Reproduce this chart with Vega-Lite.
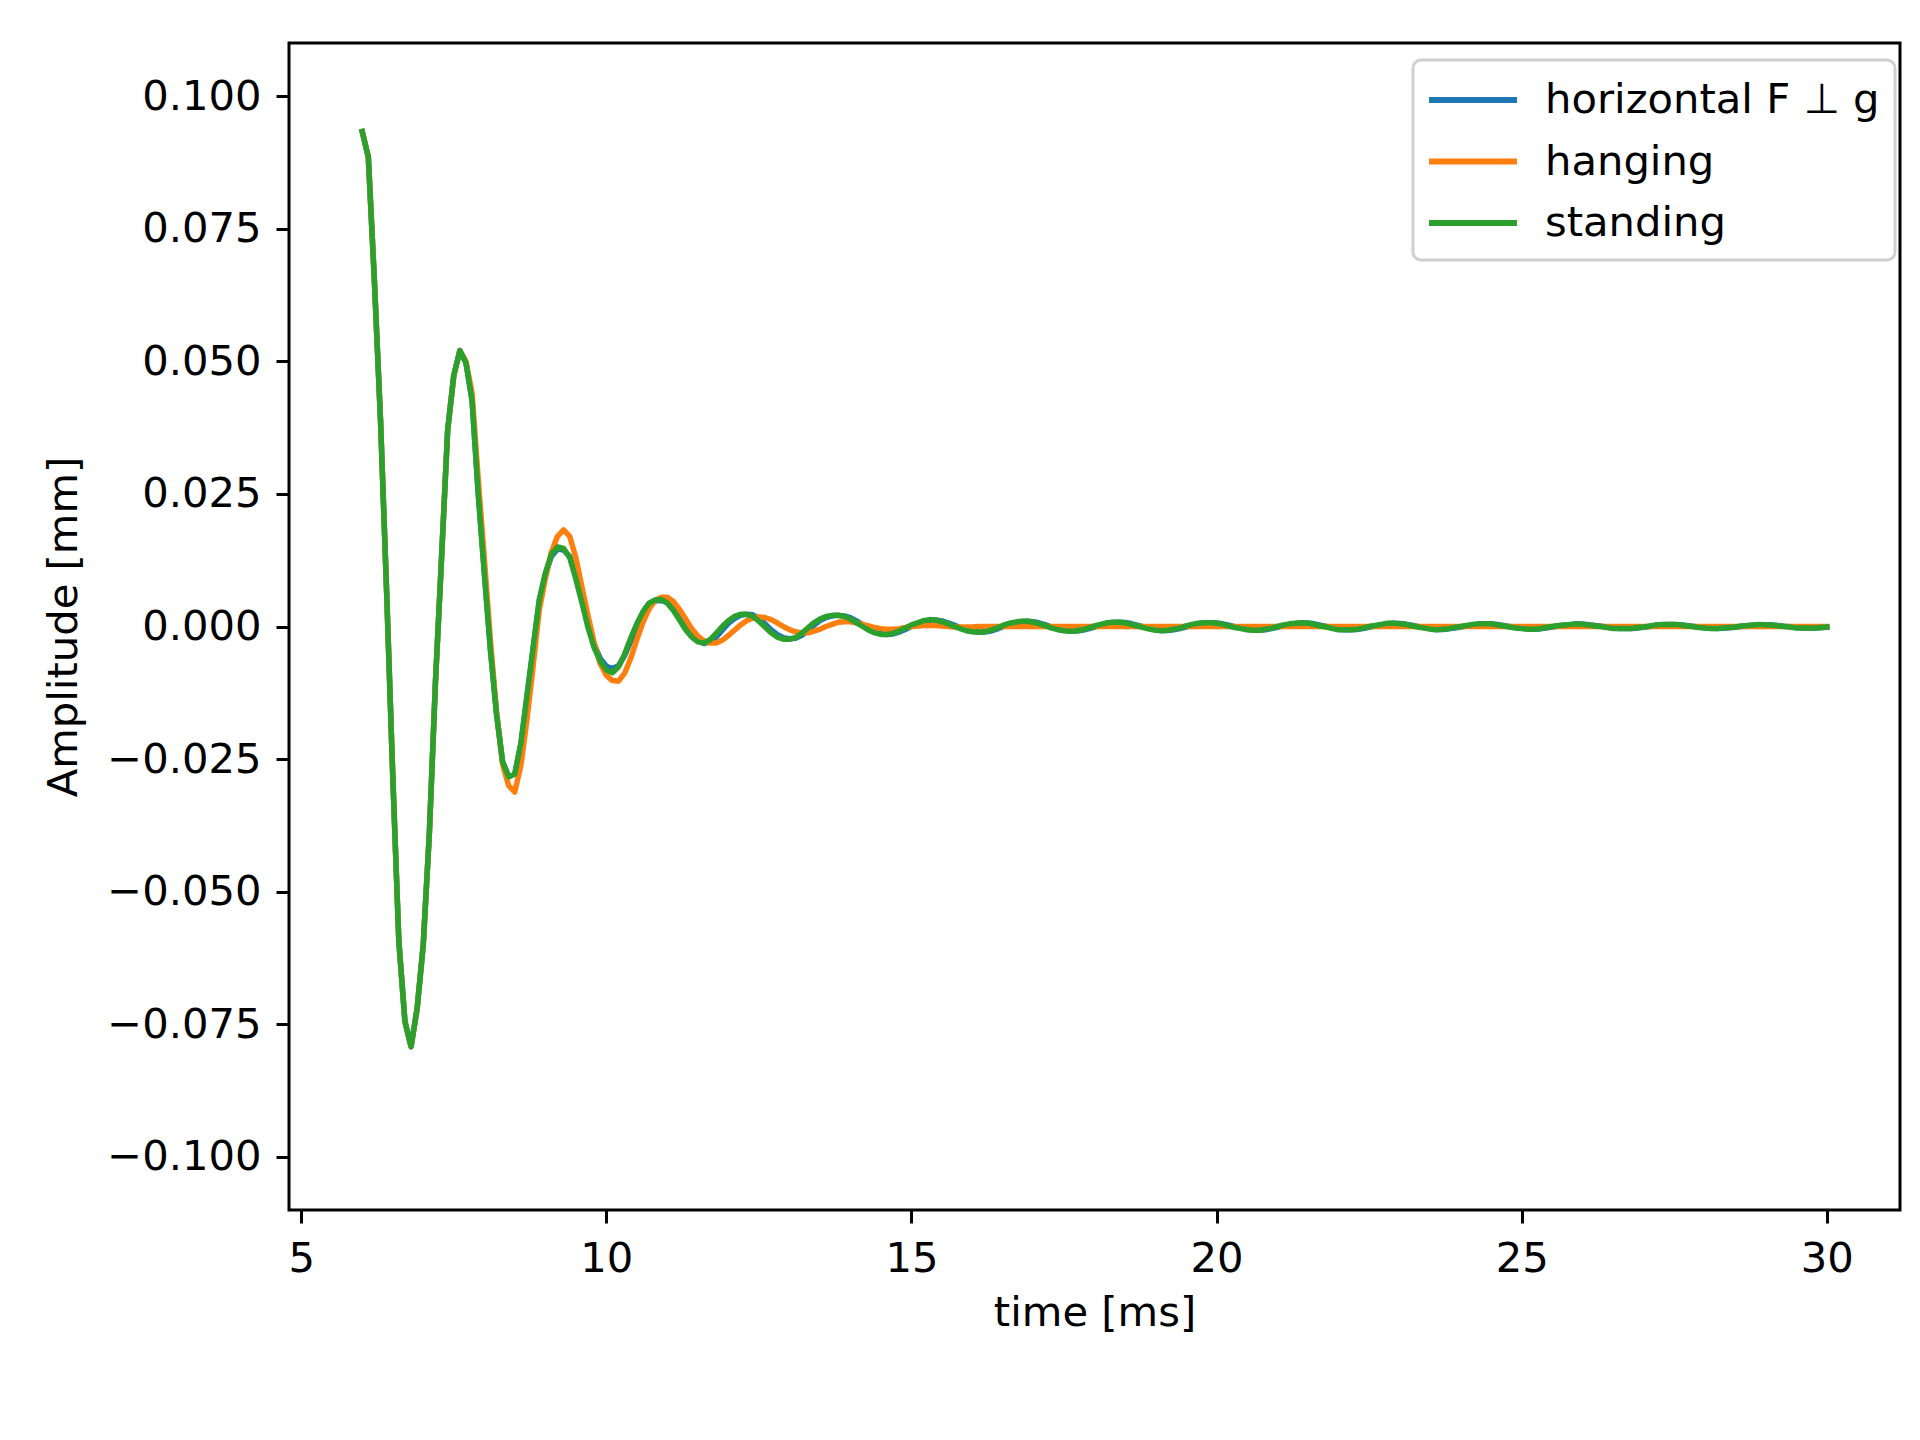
{
"$schema":"https://vega.github.io/schema/vega-lite/v6.json",
"width":1611,"height":1167,
"autosize":{"type":"none"},
"padding":{"left":289,"top":43,"right":20,"bottom":230},
"background":"white",
"config":{
"view":{"stroke":"black","strokeWidth":3},
"font":"DejaVu Sans",
"axis":{"domain":false,"grid":false,"tickColor":"black","tickWidth":3,"tickSize":13,"labelFont":"DejaVu Sans","labelFontSize":41.7,"labelColor":"black","titleFont":"DejaVu Sans","titleFontSize":41.7,"titleFontWeight":"normal","titleColor":"black","labelPadding":15},
"legend":{"orient":"none","legendX":1124,"legendY":17,"title":null,"symbolType":"M-2,0H2","symbolSize":1936,"symbolOffset":20,"symbolStrokeWidth":6,"labelFont":"DejaVu Sans","labelFontSize":41.7,"labelColor":"black","labelLimit":0,"labelOffset":47,"rowPadding":14.5,"padding":15,"strokeColor":"#d0d0d0","strokeWidth":3,"fillColor":"white","cornerRadius":8}
},
"datasets":{
"standing":[
{"t":6.0,"a":0.0933},{"t":6.1,"a":0.0885},{"t":6.2,"a":0.065},{"t":6.3,"a":0.0388},{"t":6.4,"a":0.0065},{"t":6.5,"a":-0.028},{"t":6.6,"a":-0.0593},{"t":6.7,"a":-0.0745},{"t":6.8,"a":-0.0792},{"t":6.9,"a":-0.072},
{"t":7.0,"a":-0.06},{"t":7.1,"a":-0.039},{"t":7.2,"a":-0.0105},{"t":7.3,"a":0.013},{"t":7.4,"a":0.037},{"t":7.5,"a":0.0473},{"t":7.6,"a":0.052},{"t":7.7,"a":0.0497},{"t":7.8,"a":0.0425},{"t":7.9,"a":0.025},
{"t":8.0,"a":0.01},{"t":8.1,"a":-0.0045},{"t":8.2,"a":-0.0165},{"t":8.3,"a":-0.0255},{"t":8.4,"a":-0.0283},{"t":8.5,"a":-0.0278},{"t":8.6,"a":-0.022},{"t":8.7,"a":-0.013},{"t":8.8,"a":-0.004},{"t":8.9,"a":0.005},
{"t":9.0,"a":0.01},{"t":9.1,"a":0.0136},{"t":9.2,"a":0.015},{"t":9.3,"a":0.0147},{"t":9.4,"a":0.013},{"t":9.5,"a":0.009},{"t":9.6,"a":0.0045},{"t":9.7,"a":-0.0002},{"t":9.8,"a":-0.004},{"t":9.9,"a":-0.0065},
{"t":10.0,"a":-0.0082},{"t":10.1,"a":-0.0087},{"t":10.2,"a":-0.0076},{"t":10.3,"a":-0.0052},{"t":10.4,"a":-0.0022},{"t":10.5,"a":0.0005},{"t":10.6,"a":0.0028},{"t":10.7,"a":0.0044},{"t":10.8,"a":0.005},{"t":10.9,"a":0.0051},
{"t":11.0,"a":0.0044},{"t":11.1,"a":0.003},{"t":11.2,"a":0.0012},{"t":11.3,"a":-0.0006},{"t":11.4,"a":-0.002},{"t":11.5,"a":-0.0029},{"t":11.6,"a":-0.0031},{"t":11.7,"a":-0.0025},{"t":11.8,"a":-0.0013},{"t":11.9,"a":0.0},
{"t":12.0,"a":0.0011},{"t":12.1,"a":0.0019},{"t":12.2,"a":0.0023},{"t":12.3,"a":0.0023},{"t":12.4,"a":0.0019},{"t":12.5,"a":0.001},{"t":12.6,"a":-0.0001},{"t":12.7,"a":-0.0012},{"t":12.8,"a":-0.002},{"t":12.9,"a":-0.0024},
{"t":13.0,"a":-0.0024},{"t":13.1,"a":-0.0021},{"t":13.2,"a":-0.0013},{"t":13.3,"a":-0.0003},{"t":13.4,"a":0.0007},{"t":13.5,"a":0.0014},{"t":13.6,"a":0.0019},{"t":13.7,"a":0.0021},{"t":13.8,"a":0.0021},{"t":13.9,"a":0.0019},
{"t":14.0,"a":0.0014},{"t":14.1,"a":0.0007},{"t":14.2,"a":0.0},{"t":14.3,"a":-0.0007},{"t":14.4,"a":-0.0012},{"t":14.5,"a":-0.0015},{"t":14.6,"a":-0.0015},{"t":14.7,"a":-0.0013},{"t":14.8,"a":-0.0008},{"t":14.9,"a":-0.0003},
{"t":15.0,"a":0.0003},{"t":15.1,"a":0.0007},{"t":15.2,"a":0.0011},{"t":15.3,"a":0.0013},{"t":15.4,"a":0.0012},{"t":15.5,"a":0.0009},{"t":15.6,"a":0.0005},{"t":15.7,"a":0.0},{"t":15.8,"a":-0.0004},{"t":15.9,"a":-0.0008},
{"t":16.0,"a":-0.001},{"t":16.1,"a":-0.0011},{"t":16.2,"a":-0.001},{"t":16.3,"a":-0.0007},{"t":16.4,"a":-0.0003},{"t":16.5,"a":0.0002},{"t":16.6,"a":0.0006},{"t":16.7,"a":0.0008},{"t":16.8,"a":0.001},{"t":16.9,"a":0.001},
{"t":17.0,"a":0.0008},{"t":17.1,"a":0.0005},{"t":17.2,"a":0.0001},{"t":17.3,"a":-0.0003},{"t":17.4,"a":-0.0006},{"t":17.5,"a":-0.0008},{"t":17.6,"a":-0.0009},{"t":17.7,"a":-0.0008},{"t":17.8,"a":-0.0006},{"t":17.9,"a":-0.0003},
{"t":18.0,"a":0.0001},{"t":18.1,"a":0.0004},{"t":18.2,"a":0.0007},{"t":18.3,"a":0.0008},{"t":18.4,"a":0.0008},{"t":18.5,"a":0.0007},{"t":18.6,"a":0.0004},{"t":18.7,"a":0.0001},{"t":18.8,"a":-0.0002},{"t":18.9,"a":-0.0005},
{"t":19.0,"a":-0.0007},{"t":19.1,"a":-0.0008},{"t":19.2,"a":-0.0007},{"t":19.3,"a":-0.0005},{"t":19.4,"a":-0.0003},{"t":19.5,"a":0.0001},{"t":19.6,"a":0.0004},{"t":19.7,"a":0.0006},{"t":19.8,"a":0.0007},{"t":19.9,"a":0.0007},
{"t":20.0,"a":0.0006},{"t":20.1,"a":0.0004},{"t":20.2,"a":0.0001},{"t":20.3,"a":-0.0002},{"t":20.4,"a":-0.0004},{"t":20.5,"a":-0.0006},{"t":20.6,"a":-0.0007},{"t":20.7,"a":-0.0007},{"t":20.8,"a":-0.0005},{"t":20.9,"a":-0.0003},
{"t":21.0,"a":0.0},{"t":21.1,"a":0.0003},{"t":21.2,"a":0.0005},{"t":21.3,"a":0.0006},{"t":21.4,"a":0.0007},{"t":21.5,"a":0.0006},{"t":21.6,"a":0.0004},{"t":21.7,"a":0.0001},{"t":21.8,"a":-0.0001},{"t":21.9,"a":-0.0004},
{"t":22.0,"a":-0.0006},{"t":22.1,"a":-0.0006},{"t":22.2,"a":-0.0006},{"t":22.3,"a":-0.0005},{"t":22.4,"a":-0.0003},{"t":22.5,"a":0.0},{"t":22.6,"a":0.0002},{"t":22.7,"a":0.0004},{"t":22.8,"a":0.0006},{"t":22.9,"a":0.0006},
{"t":23.0,"a":0.0005},{"t":23.1,"a":0.0004},{"t":23.2,"a":0.0001},{"t":23.3,"a":-0.0001},{"t":23.4,"a":-0.0003},{"t":23.5,"a":-0.0005},{"t":23.6,"a":-0.0006},{"t":23.7,"a":-0.0005},{"t":23.8,"a":-0.0004},{"t":23.9,"a":-0.0002},
{"t":24.0,"a":0.0},{"t":24.1,"a":0.0002},{"t":24.2,"a":0.0004},{"t":24.3,"a":0.0005},{"t":24.4,"a":0.0005},{"t":24.5,"a":0.0005},{"t":24.6,"a":0.0003},{"t":24.7,"a":0.0001},{"t":24.8,"a":-0.0001},{"t":24.9,"a":-0.0003},
{"t":25.0,"a":-0.0004},{"t":25.1,"a":-0.0005},{"t":25.2,"a":-0.0005},{"t":25.3,"a":-0.0004},{"t":25.4,"a":-0.0002},{"t":25.5,"a":0.0},{"t":25.6,"a":0.0002},{"t":25.7,"a":0.0003},{"t":25.8,"a":0.0004},{"t":25.9,"a":0.0005},
{"t":26.0,"a":0.0004},{"t":26.1,"a":0.0003},{"t":26.2,"a":0.0001},{"t":26.3,"a":0.0},{"t":26.4,"a":-0.0002},{"t":26.5,"a":-0.0004},{"t":26.6,"a":-0.0004},{"t":26.7,"a":-0.0004},{"t":26.8,"a":-0.0004},{"t":26.9,"a":-0.0002},
{"t":27.0,"a":-0.0001},{"t":27.1,"a":0.0001},{"t":27.2,"a":0.0003},{"t":27.3,"a":0.0004},{"t":27.4,"a":0.0004},{"t":27.5,"a":0.0004},{"t":27.6,"a":0.0003},{"t":27.7,"a":0.0001},{"t":27.8,"a":0.0},{"t":27.9,"a":-0.0002},
{"t":28.0,"a":-0.0003},{"t":28.1,"a":-0.0004},{"t":28.2,"a":-0.0004},{"t":28.3,"a":-0.0003},{"t":28.4,"a":-0.0002},{"t":28.5,"a":-0.0001},{"t":28.6,"a":0.0001},{"t":28.7,"a":0.0002},{"t":28.8,"a":0.0003},{"t":28.9,"a":0.0004},
{"t":29.0,"a":0.0003},{"t":29.1,"a":0.0003},{"t":29.2,"a":0.0001},{"t":29.3,"a":0.0},{"t":29.4,"a":-0.0001},{"t":29.5,"a":-0.0003},{"t":29.6,"a":-0.0003},{"t":29.7,"a":-0.0003},{"t":29.8,"a":-0.0003},{"t":29.9,"a":-0.0002},
{"t":30.0,"a":-0.0001}
],
"hanging":[
{"t":6.0,"a":0.0933},{"t":6.1,"a":0.0885},{"t":6.2,"a":0.065},{"t":6.3,"a":0.0388},{"t":6.4,"a":0.0065},{"t":6.5,"a":-0.028},{"t":6.6,"a":-0.0593},{"t":6.7,"a":-0.0745},{"t":6.8,"a":-0.0792},{"t":6.9,"a":-0.072},
{"t":7.0,"a":-0.06},{"t":7.1,"a":-0.039},{"t":7.2,"a":-0.0105},{"t":7.3,"a":0.013},{"t":7.4,"a":0.037},{"t":7.5,"a":0.0473},{"t":7.6,"a":0.052},{"t":7.7,"a":0.05},{"t":7.8,"a":0.044},{"t":7.9,"a":0.028},
{"t":8.0,"a":0.013},{"t":8.1,"a":-0.0025},{"t":8.2,"a":-0.016},{"t":8.3,"a":-0.026},{"t":8.4,"a":-0.03},{"t":8.5,"a":-0.0312},{"t":8.6,"a":-0.0262},{"t":8.7,"a":-0.0175},{"t":8.8,"a":-0.0075},{"t":8.9,"a":0.003},
{"t":9.0,"a":0.009},{"t":9.1,"a":0.014},{"t":9.2,"a":0.017},{"t":9.3,"a":0.0182},{"t":9.4,"a":0.017},{"t":9.5,"a":0.013},{"t":9.6,"a":0.0075},{"t":9.7,"a":0.002},{"t":9.8,"a":-0.003},{"t":9.9,"a":-0.007},
{"t":10.0,"a":-0.0092},{"t":10.1,"a":-0.0102},{"t":10.2,"a":-0.0103},{"t":10.3,"a":-0.0088},{"t":10.4,"a":-0.006},{"t":10.5,"a":-0.0025},{"t":10.6,"a":0.0008},{"t":10.7,"a":0.0033},{"t":10.8,"a":0.0049},{"t":10.9,"a":0.0055},
{"t":11.0,"a":0.0055},{"t":11.1,"a":0.0047},{"t":11.2,"a":0.0032},{"t":11.3,"a":0.0014},{"t":11.4,"a":-0.0004},{"t":11.5,"a":-0.0018},{"t":11.6,"a":-0.0027},{"t":11.7,"a":-0.0031},{"t":11.8,"a":-0.0031},{"t":11.9,"a":-0.0026},
{"t":12.0,"a":-0.0017},{"t":12.1,"a":-0.0007},{"t":12.2,"a":0.0003},{"t":12.3,"a":0.0011},{"t":12.4,"a":0.0016},{"t":12.5,"a":0.0018},{"t":12.6,"a":0.0017},{"t":12.7,"a":0.0013},{"t":12.8,"a":0.0007},{"t":12.9,"a":0.0},
{"t":13.0,"a":-0.0006},{"t":13.1,"a":-0.001},{"t":13.2,"a":-0.0012},{"t":13.3,"a":-0.0012},{"t":13.4,"a":-0.0009},{"t":13.5,"a":-0.0005},{"t":13.6,"a":0.0},{"t":13.7,"a":0.0004},{"t":13.8,"a":0.0008},{"t":13.9,"a":0.0009},
{"t":14.0,"a":0.0009},{"t":14.1,"a":0.0007},{"t":14.2,"a":0.0004},{"t":14.3,"a":0.0001},{"t":14.4,"a":-0.0002},{"t":14.5,"a":-0.0004},{"t":14.6,"a":-0.0005},{"t":14.7,"a":-0.0005},{"t":14.8,"a":-0.0004},{"t":14.9,"a":-0.0002},
{"t":15.0,"a":0.0},{"t":15.1,"a":0.0001},{"t":15.2,"a":0.0002},{"t":15.3,"a":0.0002},{"t":15.4,"a":0.0002},{"t":15.5,"a":0.0001},{"t":15.6,"a":0.0},{"t":15.7,"a":-0.0001},{"t":15.8,"a":-0.0001},{"t":15.9,"a":-0.0001},
{"t":16.0,"a":-0.0001},{"t":16.1,"a":0.0},{"t":16.2,"a":0.0},{"t":16.3,"a":0.0},{"t":16.4,"a":0.0},{"t":16.5,"a":0.0},{"t":16.6,"a":0.0},{"t":16.7,"a":0.0},{"t":16.8,"a":0.0},{"t":16.9,"a":0.0},
{"t":17.0,"a":0.0},{"t":17.5,"a":0.0},{"t":18.0,"a":0.0},{"t":18.5,"a":0.0},{"t":19.0,"a":0.0},{"t":19.5,"a":0.0},{"t":20.0,"a":0.0},{"t":20.5,"a":0.0},{"t":21.0,"a":0.0},{"t":21.5,"a":0.0},
{"t":22.0,"a":0.0},{"t":22.5,"a":0.0},{"t":23.0,"a":0.0},{"t":23.5,"a":0.0},{"t":24.0,"a":0.0},{"t":24.5,"a":0.0},{"t":25.0,"a":0.0},{"t":25.5,"a":0.0},{"t":26.0,"a":0.0},{"t":26.5,"a":0.0},
{"t":27.0,"a":0.0},{"t":27.5,"a":0.0},{"t":28.0,"a":0.0},{"t":28.5,"a":0.0},{"t":29.0,"a":0.0},{"t":29.5,"a":0.0},{"t":30.0,"a":0.0}
],
"horizontal":[
{"t":6.0,"a":0.0933},{"t":6.1,"a":0.0885},{"t":6.2,"a":0.065},{"t":6.3,"a":0.0388},{"t":6.4,"a":0.0065},{"t":6.5,"a":-0.028},{"t":6.6,"a":-0.0593},{"t":6.7,"a":-0.0745},{"t":6.8,"a":-0.0792},{"t":6.9,"a":-0.072},
{"t":7.0,"a":-0.06},{"t":7.1,"a":-0.039},{"t":7.2,"a":-0.0105},{"t":7.3,"a":0.013},{"t":7.4,"a":0.037},{"t":7.5,"a":0.0473},{"t":7.6,"a":0.052},{"t":7.7,"a":0.0497},{"t":7.8,"a":0.0428},{"t":7.9,"a":0.0255},
{"t":8.0,"a":0.0105},{"t":8.1,"a":-0.004},{"t":8.2,"a":-0.0163},{"t":8.3,"a":-0.0255},{"t":8.4,"a":-0.0283},{"t":8.5,"a":-0.0278},{"t":8.6,"a":-0.0222},{"t":8.7,"a":-0.0133},{"t":8.8,"a":-0.0043},{"t":8.9,"a":0.0047},
{"t":9.0,"a":0.0098},{"t":9.1,"a":0.0132},{"t":9.2,"a":0.0146},{"t":9.3,"a":0.0144},{"t":9.4,"a":0.0132},{"t":9.5,"a":0.0097},{"t":9.6,"a":0.0052},{"t":9.7,"a":0.0007},{"t":9.8,"a":-0.0033},{"t":9.9,"a":-0.006},
{"t":10.0,"a":-0.0075},{"t":10.1,"a":-0.0079},{"t":10.2,"a":-0.0074},{"t":10.3,"a":-0.0055},{"t":10.4,"a":-0.0028},{"t":10.5,"a":0.0},{"t":10.6,"a":0.0023},{"t":10.7,"a":0.004},{"t":10.8,"a":0.0048},{"t":10.9,"a":0.0049},
{"t":11.0,"a":0.0045},{"t":11.1,"a":0.0034},{"t":11.2,"a":0.0018},{"t":11.3,"a":0.0},{"t":11.4,"a":-0.0016},{"t":11.5,"a":-0.0027},{"t":11.6,"a":-0.0032},{"t":11.7,"a":-0.0029},{"t":11.8,"a":-0.002},{"t":11.9,"a":-0.0007},
{"t":12.0,"a":0.0006},{"t":12.1,"a":0.0015},{"t":12.2,"a":0.0021},{"t":12.3,"a":0.0023},{"t":12.4,"a":0.0022},{"t":12.5,"a":0.0015},{"t":12.6,"a":0.0005},{"t":12.7,"a":-0.0006},{"t":12.8,"a":-0.0015},{"t":12.9,"a":-0.0021},
{"t":13.0,"a":-0.0023},{"t":13.1,"a":-0.0022},{"t":13.2,"a":-0.0017},{"t":13.3,"a":-0.0008},{"t":13.4,"a":0.0002},{"t":13.5,"a":0.0011},{"t":13.6,"a":0.0017},{"t":13.7,"a":0.002},{"t":13.8,"a":0.0021},{"t":13.9,"a":0.002},
{"t":14.0,"a":0.00165},{"t":14.1,"a":0.00105},{"t":14.2,"a":0.00035},{"t":14.3,"a":-0.00035},{"t":14.4,"a":-0.00095},{"t":14.5,"a":-0.00135},{"t":14.6,"a":-0.0015},{"t":14.7,"a":-0.0014},{"t":14.8,"a":-0.00105},{"t":14.9,"a":-0.00055},
{"t":15.0,"a":0.0},{"t":15.1,"a":0.0005},{"t":15.2,"a":0.0009},{"t":15.3,"a":0.0012},{"t":15.4,"a":0.00125},{"t":15.5,"a":0.00105},{"t":15.6,"a":0.0007},{"t":15.7,"a":0.00025},{"t":15.8,"a":-0.0002},{"t":15.9,"a":-0.0006},
{"t":16.0,"a":-0.0009},{"t":16.1,"a":-0.00105},{"t":16.2,"a":-0.00105},{"t":16.3,"a":-0.00085},{"t":16.4,"a":-0.0005},{"t":16.5,"a":-0.00005},{"t":16.6,"a":0.0004},{"t":16.7,"a":0.0007},{"t":16.8,"a":0.0009},{"t":16.9,"a":0.001},
{"t":17.0,"a":0.0009},{"t":17.1,"a":0.00065},{"t":17.2,"a":0.0003},{"t":17.3,"a":-0.0001},{"t":17.4,"a":-0.00045},{"t":17.5,"a":-0.0007},{"t":17.6,"a":-0.00085},{"t":17.7,"a":-0.00085},{"t":17.8,"a":-0.0007},{"t":17.9,"a":-0.00045},
{"t":18.0,"a":-0.0001},{"t":18.1,"a":0.00025},{"t":18.2,"a":0.00055},{"t":18.3,"a":0.00075},{"t":18.4,"a":0.0008},{"t":18.5,"a":0.00075},{"t":18.6,"a":0.00055},{"t":18.7,"a":0.00025},{"t":18.8,"a":-0.00005},{"t":18.9,"a":-0.00035},
{"t":19.0,"a":-0.0006},{"t":19.1,"a":-0.00075},{"t":19.2,"a":-0.00075},{"t":19.3,"a":-0.0006},{"t":19.4,"a":-0.0004},{"t":19.5,"a":-0.0001},{"t":19.6,"a":0.00025},{"t":19.7,"a":0.0005},{"t":19.8,"a":0.00065},{"t":19.9,"a":0.0007},
{"t":20.0,"a":0.00065},{"t":20.1,"a":0.0005},{"t":20.2,"a":0.00025},{"t":20.3,"a":-0.00005},{"t":20.4,"a":-0.0003},{"t":20.5,"a":-0.0005},{"t":20.6,"a":-0.00065},{"t":20.7,"a":-0.0007},{"t":20.8,"a":-0.0006},{"t":20.9,"a":-0.0004},
{"t":21.0,"a":-0.00015},{"t":21.1,"a":0.00015},{"t":21.2,"a":0.0004},{"t":21.3,"a":0.00055},{"t":21.4,"a":0.00065},{"t":21.5,"a":0.00065},{"t":21.6,"a":0.0005},{"t":21.7,"a":0.00025},{"t":21.8,"a":0.0},{"t":21.9,"a":-0.00025},
{"t":22.0,"a":-0.0005},{"t":22.1,"a":-0.0006},{"t":22.2,"a":-0.0006},{"t":22.3,"a":-0.00055},{"t":22.4,"a":-0.0004},{"t":22.5,"a":-0.00015},{"t":22.6,"a":0.0001},{"t":22.7,"a":0.0003},{"t":22.8,"a":0.0005},{"t":22.9,"a":0.0006},
{"t":23.0,"a":0.00055},{"t":23.1,"a":0.00045},{"t":23.2,"a":0.00025},{"t":23.3,"a":0.0},{"t":23.4,"a":-0.0002},{"t":23.5,"a":-0.0004},{"t":23.6,"a":-0.00055},{"t":23.7,"a":-0.00055},{"t":23.8,"a":-0.00045},{"t":23.9,"a":-0.0003},
{"t":24.0,"a":-0.0001},{"t":24.1,"a":0.0001},{"t":24.2,"a":0.0003},{"t":24.3,"a":0.00045},{"t":24.4,"a":0.0005},{"t":24.5,"a":0.0005},{"t":24.6,"a":0.0004},{"t":24.7,"a":0.0002},{"t":24.8,"a":0.0},{"t":24.9,"a":-0.0002},
{"t":25.0,"a":-0.00035},{"t":25.1,"a":-0.00045},{"t":25.2,"a":-0.0005},{"t":25.3,"a":-0.00045},{"t":25.4,"a":-0.0003},{"t":25.5,"a":-0.0001},{"t":25.6,"a":0.0001},{"t":25.7,"a":0.00025},{"t":25.8,"a":0.00035},{"t":25.9,"a":0.00045},
{"t":26.0,"a":0.00045},{"t":26.1,"a":0.00035},{"t":26.2,"a":0.0002},{"t":26.3,"a":0.00005},{"t":26.4,"a":-0.0001},{"t":26.5,"a":-0.0003},{"t":26.6,"a":-0.0004},{"t":26.7,"a":-0.0004},{"t":26.8,"a":-0.0004},{"t":26.9,"a":-0.0003},
{"t":27.0,"a":-0.00015},{"t":27.1,"a":0.0},{"t":27.2,"a":0.0002},{"t":27.3,"a":0.00035},{"t":27.4,"a":0.0004},{"t":27.5,"a":0.0004},{"t":27.6,"a":0.00035},{"t":27.7,"a":0.0002},{"t":27.8,"a":0.00005},{"t":27.9,"a":-0.0001},
{"t":28.0,"a":-0.00025},{"t":28.1,"a":-0.00035},{"t":28.2,"a":-0.0004},{"t":28.3,"a":-0.00035},{"t":28.4,"a":-0.00025},{"t":28.5,"a":-0.00015},{"t":28.6,"a":0.0},{"t":28.7,"a":0.00015},{"t":28.8,"a":0.00025},{"t":28.9,"a":0.00035},
{"t":29.0,"a":0.00035},{"t":29.1,"a":0.0003},{"t":29.2,"a":0.0002},{"t":29.3,"a":0.00005},{"t":29.4,"a":-0.00005},{"t":29.5,"a":-0.0002},{"t":29.6,"a":-0.0003},{"t":29.7,"a":-0.0003},{"t":29.8,"a":-0.0003},{"t":29.9,"a":-0.00025},
{"t":30.0,"a":-0.00015}
]
},
"encoding":{
"x":{"field":"t","type":"quantitative","scale":{"domain":[4.8,31.2],"nice":false,"zero":false},"axis":{"values":[5,10,15,20,25,30],"title":"time [ms]","titlePadding":13}},
"y":{"field":"a","type":"quantitative","scale":{"domain":[-0.11,0.11],"nice":false,"zero":false},"axis":{"values":[-0.1,-0.075,-0.05,-0.025,0,0.025,0.05,0.075,0.1],"format":".3f","title":"Amplitude [mm]","titlePadding":21}}
},
"layer":[
{"data":{"name":"horizontal"},"mark":{"type":"line","strokeWidth":5.5,"strokeJoin":"round","strokeCap":"square"},
 "encoding":{"color":{"datum":"horizontal F ⊥ g","type":"nominal","scale":{"domain":["horizontal F ⊥ g","hanging","standing"],"range":["#1f77b4","#ff7f0e","#2ca02c"]}}}},
{"data":{"name":"hanging"},"mark":{"type":"line","strokeWidth":5.5,"strokeJoin":"round","strokeCap":"square"},
 "encoding":{"color":{"datum":"hanging","type":"nominal"}}},
{"data":{"name":"standing"},"mark":{"type":"line","strokeWidth":5.5,"strokeJoin":"round","strokeCap":"square"},
 "encoding":{"color":{"datum":"standing","type":"nominal"}}}
]
}
